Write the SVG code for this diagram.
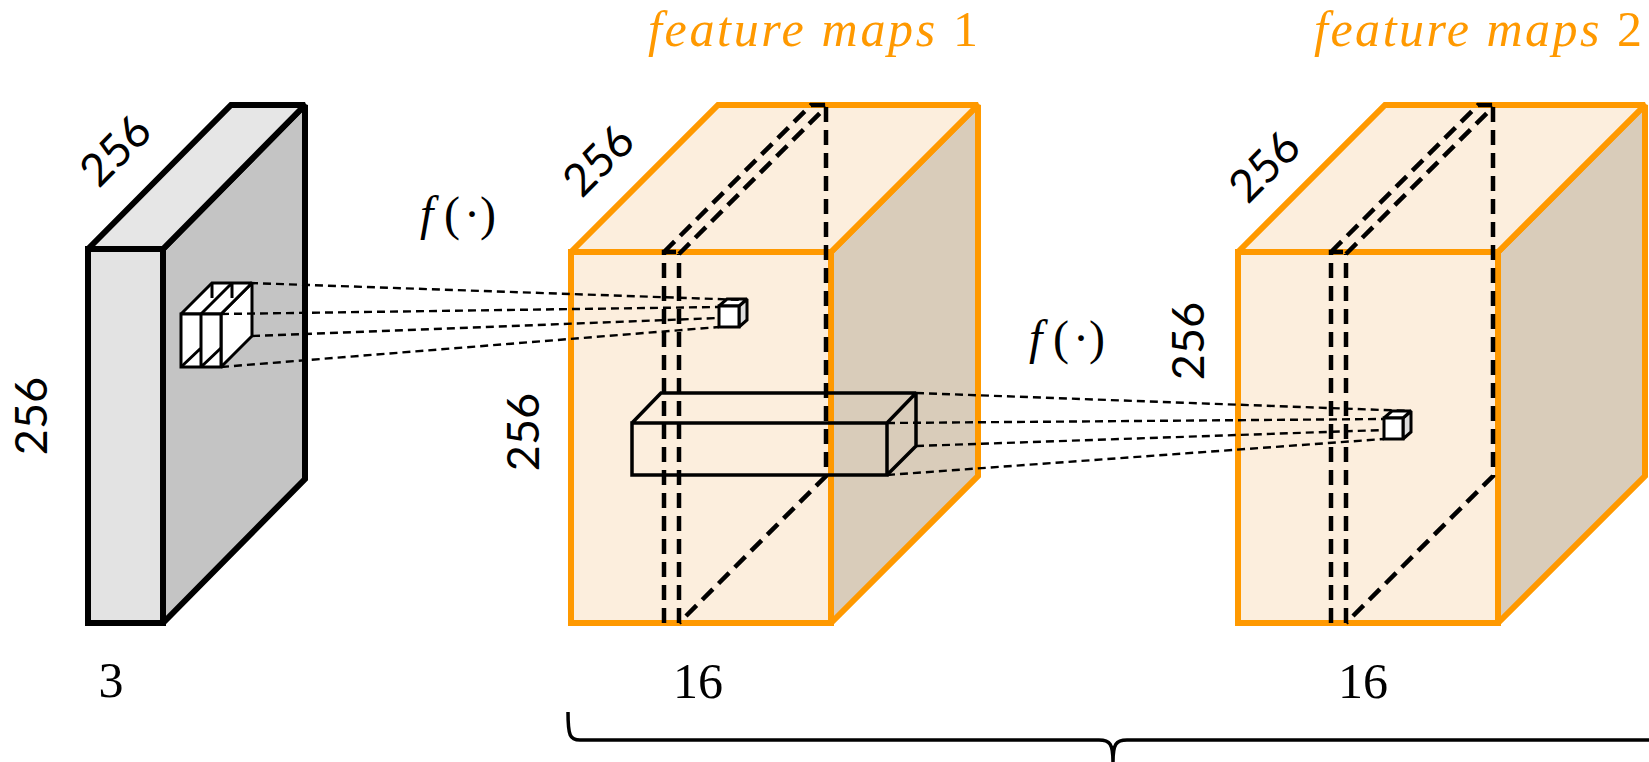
<svg xmlns="http://www.w3.org/2000/svg" width="1649" height="762" viewBox="0 0 1649 762">
<style>
.s5{stroke:#000;stroke-width:6;stroke-linejoin:miter;stroke-miterlimit:2}
.org{stroke:#FF9900;stroke-width:6;stroke-linejoin:miter;stroke-miterlimit:2}
.face{fill:#FCEEDD}
.side{fill:#D9CCBA}
.slice{fill:none;stroke:#000;stroke-width:4.5;stroke-dasharray:15 8}
.proj{fill:none;stroke:#000;stroke-width:2.4;stroke-dasharray:8 5}
.k{stroke:#000;stroke-width:3.5;stroke-linejoin:miter;stroke-miterlimit:2}
.k2{stroke:#000;stroke-width:3;stroke-linejoin:miter;stroke-miterlimit:2}
.num{font-family:Lato,"Liberation Sans",sans-serif;font-size:45px;fill:#000;text-anchor:middle}
.ser{font-family:"Liberation Serif",serif;font-size:50px;fill:#000;text-anchor:middle}
.title{font-family:"Liberation Serif",serif;font-size:50px;font-style:italic;fill:#FF9900}
.fn{font-family:"Liberation Serif",serif;font-size:48px;fill:#000}
</style>

<g id="input-slab">
<polygon points="163,249 305,105 305,479 163,623" fill="#C4C4C4" class="s5"/>
<polygon points="88,249 231,105 305,105 163,249" fill="#E6E6E6" class="s5"/>
<rect x="88" y="249" width="75" height="374" fill="#E3E3E3" class="s5"/>
</g>

<g id="kernel-input">
<polygon points="221,314 252,283 252,336 221,367" fill="#fff" class="k2"/>
<polygon points="181,314 212,283 252,283 221,314" fill="#fff" class="k2"/>
<rect x="181" y="314" width="40" height="53" fill="#fff" class="k2"/>
<path d="M201,314 V367 M201,314 L232,283 M212,283 V298 M232,283 V298 M181,367 L201,348 M201,367 L221,348" fill="none" class="k2"/>
</g>

<g id="feature-maps-1">
<polygon points="831,252 978,105 978,476 831,623" class="side org"/>
<polygon points="571,252 718,105 978,105 831,252" class="face org"/>
<rect x="571" y="252" width="260" height="371" class="face org"/>
<path class="slice" d="M664,623 V252 H679 M679,623 V254 M664,252 L811,105 H826 M679,254 L826,107 M826,107 V476 L679,623"/>
</g>

<g id="kernel-fm1">
<path class="k" fill="none" d="M632,423 H887 V475 H632 Z M632,423 L661,393 H916 L887,423 M916,393 V446 L887,475"/>
</g>

<g id="output-fm1">
<polygon points="739,306 747,299 747,320 739,327" fill="#ddd" class="k2"/>
<polygon points="719,306 727,299 747,299 739,306" fill="#fff" class="k2"/>
<rect x="719" y="306" width="20" height="21" fill="#fff" class="k2"/>
</g>

<g id="feature-maps-2">
<polygon points="1498,252 1645,105 1645,476 1498,623" class="side org"/>
<polygon points="1238,252 1385,105 1645,105 1498,252" class="face org"/>
<rect x="1238" y="252" width="260" height="371" class="face org"/>
<path class="slice" d="M1331,623 V252 H1346 M1346,623 V254 M1331,252 L1478,105 H1493 M1346,254 L1493,107 M1493,107 V476 L1346,623"/>
</g>

<g id="output-fm2">
<polygon points="1403,418 1411,411 1411,432 1403,439" fill="#ddd" class="k2"/>
<polygon points="1384,418 1392,411 1411,411 1403,418" fill="#fff" class="k2"/>
<rect x="1384" y="418" width="19" height="21" fill="#fff" class="k2"/>
</g>

<g id="connectors">
<path class="proj" d="M250,283 L745,300 M221,314 L719,307 M252,336 L719,318 M221,367 L719,327"/>
<path class="proj" d="M916,393 L1411,411 M887,423 L1384,419 M916,446 L1384,430 M887,475 L1384,439"/>
</g>

<g id="labels">
<text class="num" transform="translate(115,150) rotate(-45)" dy=".36em">256</text>
<text class="num" transform="translate(31,416) rotate(-90)" dy=".36em">256</text>
<text class="ser" x="111" y="697">3</text>
<text class="num" transform="translate(598,160) rotate(-45)" dy=".36em">256</text>
<text class="num" transform="translate(523,432) rotate(-90)" dy=".36em">256</text>
<text class="ser" x="698" y="698">16</text>
<text class="num" transform="translate(1264,166) rotate(-45)" dy=".36em">256</text>
<text class="num" transform="translate(1188,341) rotate(-90)" dy=".36em">256</text>
<text class="ser" x="1363" y="698">16</text>
<text class="fn" x="420" y="230"><tspan font-style="italic">f</tspan><tspan x="444">(</tspan><tspan x="464">·</tspan><tspan x="480">)</tspan></text>
<text class="fn" x="1029" y="354"><tspan font-style="italic">f</tspan><tspan x="1053">(</tspan><tspan x="1073">·</tspan><tspan x="1089">)</tspan></text>
<text class="title" x="648" y="46" textLength="330" lengthAdjust="spacing">feature maps <tspan font-style="normal">1</tspan></text>
<text class="title" x="1314" y="46" textLength="328" lengthAdjust="spacing">feature maps <tspan font-style="normal">2</tspan></text>
</g>

<g id="brace">
<path d="M568,712 C568,736 570,740 580,740 L1099,740 C1110,740 1113,744 1113,762 M1113,762 C1113,744 1116,740 1127,740 L1660,740" fill="none" stroke="#000" stroke-width="3.5"/>
</g>
</svg>
